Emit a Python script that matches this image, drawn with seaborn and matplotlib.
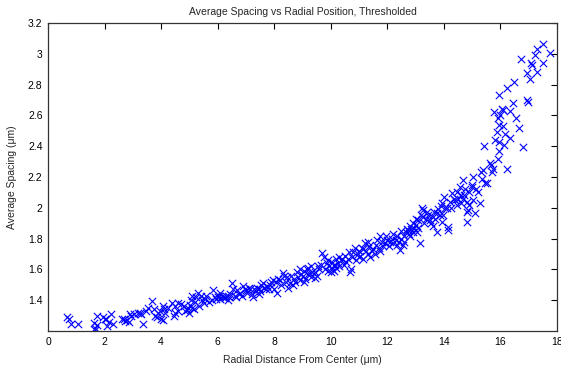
import matplotlib
matplotlib.use("Agg")
import matplotlib.pyplot as plt
import seaborn as sns
import pandas as pd

# Radial distance from center (um) and average spacing (um) per measured region
radial_um = [
    0.68, 0.75, 0.82, 1.05, 1.62, 1.65, 1.66, 1.72, 1.75, 1.95, 2.0, 2.05, 2.08, 2.22, 2.3, 2.15,
    2.62, 2.68, 2.72, 2.78, 2.85, 2.9, 2.95, 3.05, 3.18, 3.25, 3.3, 3.35, 3.45, 3.55, 3.68, 3.75,
    3.8, 3.85, 3.9, 3.95, 4.0, 4.05, 4.1, 4.15, 4.05, 4.4, 4.45, 4.5, 4.48,
    4.6, 4.7, 4.8, 4.85, 4.9, 4.95, 4.98, 5.02, 5.08, 5.1, 5.15, 5.2, 5.25, 5.3, 5.35, 5.4, 5.45,
    5.5, 5.55, 5.7, 5.8, 5.84, 5.9, 5.95, 6.0,
    6.05, 6.1, 6.15, 6.2, 6.25, 6.3, 6.4, 6.45, 6.5, 6.55, 6.6, 6.65, 6.7, 6.75, 6.8, 6.9, 6.95,
    7.0, 7.05, 7.1, 7.2, 7.25, 7.3, 7.35, 7.4, 7.45, 7.5, 7.55, 7.6, 7.65, 7.7, 7.75, 7.85, 7.9,
    7.97, 8.0,
    8.05, 8.1, 8.15, 8.2, 8.3, 8.35, 8.45, 8.5, 8.55, 8.6, 8.7, 8.8, 8.85, 8.9, 8.95, 9.0, 9.05,
    9.1, 9.15, 9.2, 9.25, 9.3, 9.35, 9.44, 9.5, 9.55, 9.6, 9.7, 9.75, 9.8, 9.85, 9.9, 9.95, 10.0,
    10.05, 10.1, 10.15, 10.2, 10.25, 10.3, 10.35, 10.4, 10.5, 10.55, 10.6, 10.68, 10.72, 10.75,
    10.8, 10.9, 10.95, 11.0, 11.05, 11.1, 11.15, 11.2, 11.25, 11.3, 11.35, 11.4, 11.45, 11.5,
    11.6, 11.7, 11.74, 11.8, 11.85, 11.9, 12.0,
    12.05, 12.1, 12.15, 12.2, 12.3, 12.34, 12.4, 12.45, 12.5, 12.55, 12.6, 12.65, 12.7, 12.73,
    12.75, 12.8, 12.85, 12.9, 12.95, 13.0, 13.05, 13.1, 13.15, 13.2, 13.22, 13.26, 13.3, 13.35,
    13.4, 13.5, 13.57, 13.6, 13.7, 13.75, 13.75, 13.8, 13.85, 13.93, 13.97, 14.0,
    14.04, 14.1, 14.14, 14.15, 14.2, 14.29, 14.35, 14.4, 14.45, 14.5, 14.57, 14.6, 14.67, 14.67,
    14.7, 14.8, 14.8, 14.8, 14.85, 14.9, 14.98, 15.03, 15.03, 15.1, 15.15, 15.28, 15.32, 15.38,
    15.42, 15.45, 15.52,
    15.63, 15.66, 15.7, 15.72, 15.77, 15.8, 15.88, 15.9, 15.91, 15.95, 15.95, 15.95, 15.95, 16.0,
    16.05, 16.09, 16.1, 16.12, 16.16, 16.23, 16.23, 16.33, 16.33, 16.44, 16.48, 16.55, 16.65,
    16.73, 16.8, 16.94, 16.94, 16.98, 17.04, 17.08, 17.12, 17.22, 17.29, 17.29, 17.5, 17.5, 17.75,
    4.25, 4.6, 5.05, 5.6, 6.1, 6.35, 6.85, 7.15, 7.45, 7.8,
    8.25, 8.4, 8.65, 8.75, 9.05, 9.2, 9.3, 9.45, 9.65, 9.9, 10.0, 8.9,
    10.1, 10.2, 10.3, 10.45, 10.65, 10.85, 11.0, 11.15, 11.3, 11.55, 11.65, 11.75, 11.95,
    12.2, 12.35, 12.5, 12.6, 12.8, 12.9, 13.0, 13.1, 13.25, 13.45, 13.55, 13.65, 13.9, 13.95,
    14.25, 14.45, 14.6, 14.75, 15.0, 15.2, 15.35, 14.9,
]
spacing_um = [
    1.29, 1.28, 1.245, 1.245, 1.25, 1.22, 1.205, 1.30, 1.24, 1.29, 1.275, 1.28, 1.23, 1.31, 1.245, 1.26,
    1.275, 1.28, 1.265, 1.27, 1.26, 1.31, 1.30, 1.31, 1.32, 1.32, 1.31, 1.245, 1.33, 1.35, 1.395, 1.34,
    1.30, 1.29, 1.32, 1.33, 1.28, 1.27, 1.34, 1.32, 1.36, 1.38, 1.30, 1.36, 1.32,
    1.38, 1.375, 1.36, 1.33, 1.335, 1.35, 1.32, 1.37, 1.43, 1.35, 1.34, 1.39, 1.42, 1.45, 1.36, 1.43, 1.40,
    1.385, 1.41, 1.39, 1.40, 1.465, 1.42, 1.41, 1.42,
    1.43, 1.41, 1.425, 1.42, 1.415, 1.43, 1.42, 1.44, 1.51, 1.47, 1.43, 1.42, 1.465, 1.44, 1.45, 1.49, 1.47,
    1.465, 1.45, 1.48, 1.44, 1.42, 1.47, 1.46, 1.48, 1.47, 1.46, 1.50, 1.51, 1.48, 1.47, 1.49, 1.50, 1.52,
    1.53, 1.47,
    1.52, 1.445, 1.54, 1.53, 1.575, 1.56, 1.55, 1.48, 1.51, 1.56, 1.54, 1.58, 1.55, 1.53, 1.57, 1.56, 1.59,
    1.54, 1.60, 1.61, 1.57, 1.55, 1.58, 1.545, 1.56, 1.62, 1.60, 1.705, 1.68, 1.60, 1.64, 1.59, 1.62, 1.65,
    1.60, 1.63, 1.63, 1.61, 1.64, 1.62, 1.66, 1.67, 1.69, 1.65, 1.67, 1.585, 1.60, 1.68,
    1.71, 1.66, 1.70, 1.72, 1.69, 1.74, 1.67, 1.77, 1.72, 1.70, 1.75, 1.68, 1.72, 1.73,
    1.76, 1.74, 1.82, 1.78, 1.75, 1.77, 1.79,
    1.75, 1.78, 1.80, 1.77, 1.79, 1.82, 1.78, 1.725, 1.80, 1.76, 1.82, 1.84, 1.86, 1.855,
    1.83, 1.88, 1.86, 1.90, 1.87, 1.89, 1.84, 1.92, 1.77, 1.95, 2.0, 1.985, 1.90, 1.93,
    1.97, 1.92, 1.945, 1.88, 1.93, 1.965, 1.84, 1.99, 1.95, 2.03, 1.95, 2.07,
    2.0, 2.0, 1.875, 1.855, 2.04, 2.095, 2.06, 2.05, 2.02, 2.06, 2.135, 2.03, 2.18, 2.06,
    2.08, 2.04, 1.97, 1.91, 1.985, 2.10, 2.135, 2.2, 2.05, 1.965, 2.12, 2.03, 2.23, 2.245,
    2.40, 2.16, 2.16,
    2.29, 2.28, 2.23, 2.25, 2.62, 2.44, 2.49, 2.58, 2.32, 2.73, 2.54, 2.43, 2.37, 2.60,
    2.64, 2.635, 2.53, 2.41, 2.48, 2.78, 2.25, 2.63, 2.45, 2.68, 2.817, 2.58, 2.52,
    2.966, 2.395, 2.875, 2.70, 2.69, 2.836, 2.94, 2.93, 2.99, 3.03, 2.88, 3.064, 2.94, 3.005,
    1.35, 1.33, 1.40, 1.43, 1.45, 1.40, 1.43, 1.47, 1.44, 1.47,
    1.50, 1.52, 1.50, 1.52, 1.52, 1.57, 1.62, 1.58, 1.63, 1.66, 1.58, 1.60,
    1.59, 1.67, 1.68, 1.63, 1.71, 1.74, 1.68, 1.73, 1.78, 1.70, 1.79, 1.72, 1.82,
    1.83, 1.76, 1.85, 1.78, 1.82, 1.84, 1.93, 1.87, 1.94, 1.95, 1.90, 1.97, 2.01, 1.91,
    2.00, 2.10, 2.08, 2.12, 2.15, 2.10, 2.19, 2.02,
]

x_ticks = [0, 2, 4, 6, 8, 10, 12, 14, 16, 18]
y_ticks = [1.4, 1.6, 1.8, 2.0, 2.2, 2.4, 2.6, 2.8, 3.0, 3.2]
y_tick_labels = ["1.4", "1.6", "1.8", "2", "2.2", "2.4", "2.6", "2.8", "3", "3.2"]

df = pd.DataFrame({"r": radial_um, "s": spacing_um})

sns.set_style("white")
plt.rcParams["font.family"] = ["Liberation Sans", "DejaVu Sans"]

fig = plt.figure(figsize=(5.61, 3.72), dpi=100)
ax = fig.add_axes([48 / 561, 1 - 331 / 372, (557 - 48) / 561, (331 - 23) / 372])

sns.scatterplot(data=df, x="r", y="s", marker="x", color="#0000ff",
                s=28, linewidth=0.8, ax=ax, legend=False)

ax.set_xlim(0, 18)
ax.set_ylim(1.2, 3.2)
ax.set_xticks(x_ticks)
ax.set_xticklabels([str(t) for t in x_ticks])
ax.set_yticks(y_ticks)
ax.set_yticklabels(y_tick_labels)
ax.tick_params(direction="in", length=4, width=0.8, top=True, right=True,
               labelsize=7.5, pad=4, colors="black")
for sp in ax.spines.values():
    sp.set_visible(True)
    sp.set_color("#333333")
    sp.set_linewidth(0.9)

ax.set_title("Average Spacing vs Radial Position, Thresholded", fontsize=7.5, pad=6)
ax.set_xlabel("Radial Distance From Center (\u03bcm)", fontsize=7.5, labelpad=6)
ax.set_ylabel("Average Spacing (\u03bcm)", fontsize=7.5, labelpad=8)

fig.savefig("out.png", dpi=100)
